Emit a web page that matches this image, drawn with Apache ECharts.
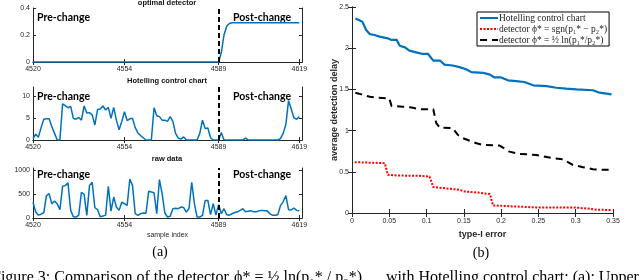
<!DOCTYPE html>
<html><head><meta charset="utf-8">
<script src="https://cdn.jsdelivr.net/npm/echarts@6/dist/echarts.min.js"></script>
<style>html,body{margin:0;padding:0;background:#fff}#c{width:640px;height:280px}</style>
</head><body><div id="c"></div><script>
// ---------- data ----------
const startSample = 4520;
const sampleTicks = [4520, 4554, 4589, 4619];
const changePoint = 4589;

const optimalDetector = [
  0,0,0,0,0,0,0,0,0,0, 0,0,0,0,0,0,0,0,0,0,
  0,0,0,0,0,0,0,0,0,0, 0,0,0,0,0,0,0,0,0,0,
  0,0,0,0,0,0,0,0,0,0, 0,0,0,0,0,0,0,0,0,0,
  0,0,0,0,0,0,0,0,0,0, 0.07,0.2,0.265,0.285,0.29,0.29,0.29,0.29,0.29,0.29,
  0.29,0.29,0.29,0.29,0.29,0.29,0.29,0.29,0.29,0.29, 0.29,0.29,0.29,0.29,0.29,0.29,0.29,0.29,0.29,0.29
];
const hotellingStat = [
  0.3,1.3,0.6,2.8,4.7,4.8,4.8,3.0,1.5,0,
  0,8.2,7.8,7.3,7.6,4.9,4.7,5.1,4.5,7.7,
  6.1,6.2,5.7,3.4,6.9,7.0,7.7,6.8,7.4,4.9,
  7.4,4.5,2.3,4.2,6.4,4.4,4.8,4.9,2.8,1.6,
  1.0,0.5,0,0,0,7.3,5.5,5.3,4.5,4.5,
  4.2,5.3,4.2,1.5,0.4,0.2,0.7,0,0,0,
  0,0,1.5,4.5,2.6,2.7,0.5,0,0,0,
  1.7,0,0,0,0,0,0,0,0,0.4,
  0,0,0,0,0,0,0,0,0,0,
  0,0,0.3,1.5,3.5,8.9,7.0,5.0,4.7,5.3
];
const rawData = [
  330,125,60,80,110,470,510,300,355,300,
  175,665,680,740,160,25,20,60,540,495,
  55,680,750,215,175,25,40,60,665,145,
  440,230,160,330,300,265,820,680,90,55,
  90,105,100,560,545,530,90,805,510,110,
  20,35,195,205,195,230,220,125,200,750,
  300,20,20,55,370,370,70,300,60,280,
  90,195,70,60,90,115,130,160,195,130,
  140,150,130,130,150,160,150,150,92,60,
  56,70,260,340,470,175,170,210,160,150
];

const typeIErrorBlue = [0.0045,0.014,0.019,0.024,0.030,0.037,0.048,0.053,0.060,0.064,0.071,0.077,0.086,0.095,0.102,0.109,0.118,0.124,0.135,0.144,0.153,0.160,0.176,0.185,0.191,0.200,0.209,0.220,0.231,0.243,0.261,0.274,0.287,0.301,0.323,0.332,0.348];
const delayHotelling = [2.36,2.32,2.22,2.17,2.16,2.14,2.12,2.10,2.10,2.03,2.01,1.97,1.95,1.93,1.93,1.85,1.85,1.80,1.79,1.77,1.745,1.71,1.70,1.68,1.645,1.645,1.61,1.60,1.59,1.55,1.54,1.52,1.51,1.50,1.49,1.46,1.44];

const typeIErrorRed = [0.0036,0.019,0.044,0.048,0.060,0.091,0.104,0.109,0.122,0.144,0.151,0.167,0.185,0.189,0.216,0.247,0.296,0.314,0.328,0.349];
const delaySgn = [0.617,0.612,0.605,0.463,0.455,0.451,0.443,0.315,0.302,0.282,0.261,0.249,0.23,0.092,0.08,0.068,0.068,0.056,0.04,0.036];

const typeIErrorBlack = [0.0045,0.0126,0.024,0.035,0.05,0.053,0.068,0.080,0.091,0.109,0.113,0.118,0.135,0.142,0.149,0.167,0.176,0.198,0.211,0.225,0.247,0.269,0.283,0.296,0.31,0.323,0.336,0.349];
const delayLn = [1.46,1.44,1.41,1.40,1.39,1.30,1.29,1.28,1.26,1.26,1.09,1.035,1.03,0.947,0.907,0.846,0.826,0.818,0.745,0.717,0.705,0.665,0.653,0.584,0.556,0.532,0.524,0.524];

const leftTitles = ['optimal detector', 'Hotelling control chart', 'raw data'];
const legendNames = ['Hotelling control chart', 'detector ϕ* = sgn(p₁* − p₂*)', 'detector ϕ* = ½ ln(p₁*/p₂*)'];

// ---------- build ----------
const AX = '#262626';
const SANS = 'Liberation Sans, Arial, sans-serif';
const SERIF = 'Liberation Serif, Times New Roman, serif';
const BLUE = '#0072BD';
const plain = (v) => String(v);

const pairs = (arr) => arr.map((v, i) => [startSample + i, v]);
const zip = (xs, ys) => xs.map((x, i) => [x, ys[i]]);

const leftGrids = [
  {left: 33, width: 269, top: 8, height: 54},
  {left: 33, width: 269, top: 87, height: 53},
  {left: 33, width: 269, top: 168, height: 50}
];
const leftY = [
  {max: 0.4, ticks: [0, 0.2, 0.4]},
  {max: 12, ticks: [0, 5, 10]},
  {max: 1050, ticks: [0, 500, 1000]}
];
const leftData = [optimalDetector, hotellingStat, rawData];

const grid = leftGrids.concat([{left: 352, width: 261, top: 7, height: 206}]);
const xAxis = [], yAxis = [], series = [];
const lineAx = {show: true, lineStyle: {color: AX, width: 1}};

leftGrids.forEach((g, k) => {
  xAxis.push({type: 'value', gridIndex: k, min: 4520, max: 4620, position: 'bottom',
    axisLine: lineAx, splitLine: {show: false},
    axisTick: {inside: true, length: 3, customValues: sampleTicks, lineStyle: {color: AX}},
    axisLabel: {customValues: sampleTicks, formatter: plain, fontSize: 7, color: AX, margin: 4, fontFamily: SANS},
    name: k === 2 ? 'sample index' : '', nameLocation: 'middle', nameGap: 14,
    nameTextStyle: {fontSize: 7, color: AX, fontFamily: SANS}});
  xAxis.push({type: 'value', gridIndex: k, min: 4520, max: 4620, position: 'top',
    axisLine: lineAx, splitLine: {show: false},
    axisTick: {inside: true, length: 3, customValues: sampleTicks, lineStyle: {color: AX}},
    axisLabel: {show: false}});
  yAxis.push({type: 'value', gridIndex: k, min: 0, max: leftY[k].max, position: 'left',
    axisLine: lineAx, splitLine: {show: false},
    axisTick: {inside: true, length: 3, customValues: leftY[k].ticks, lineStyle: {color: AX}},
    axisLabel: {customValues: leftY[k].ticks, formatter: plain, fontSize: 7, color: AX, margin: 3, fontFamily: SANS}});
  yAxis.push({type: 'value', gridIndex: k, min: 0, max: leftY[k].max, position: 'right',
    axisLine: lineAx, splitLine: {show: false},
    axisTick: {inside: true, length: 3, customValues: leftY[k].ticks, lineStyle: {color: AX}},
    axisLabel: {show: false}});
  series.push({type: 'line', xAxisIndex: 2 * k, yAxisIndex: 2 * k, data: pairs(leftData[k]),
    symbol: 'none', lineStyle: {color: BLUE, width: 1.5}, silent: true, z: 2,
    markLine: {silent: true, symbol: 'none', label: {show: false}, animation: false,
      lineStyle: {type: [5, 3], color: '#000', width: 2}, data: [{xAxis: changePoint}]}});
});

// right panel
xAxis.push({type: 'value', gridIndex: 3, min: 0, max: 0.35, interval: 0.05, position: 'bottom',
  axisLine: lineAx, splitLine: {show: false},
  axisTick: {inside: true, length: 4, lineStyle: {color: AX}},
  axisLabel: {fontSize: 7, color: AX, margin: 5, fontFamily: SANS},
  name: 'type-I error', nameLocation: 'middle', nameGap: 15,
  nameTextStyle: {fontSize: 9, fontWeight: 'bold', color: AX, fontFamily: SANS}});
xAxis.push({type: 'value', gridIndex: 3, min: 0, max: 0.35, interval: 0.05, position: 'top',
  axisLine: lineAx, splitLine: {show: false},
  axisTick: {inside: true, length: 4, lineStyle: {color: AX}}, axisLabel: {show: false}});
yAxis.push({type: 'value', gridIndex: 3, min: 0, max: 2.5, interval: 0.5, position: 'left',
  axisLine: lineAx, splitLine: {show: false},
  axisTick: {inside: true, length: 4, lineStyle: {color: AX}},
  axisLabel: {fontSize: 7, color: AX, margin: 3, fontFamily: SANS},
  name: 'average detection delay', nameLocation: 'middle', nameGap: 13, nameMoveOverlap: false,
  nameTextStyle: {fontSize: 9, fontWeight: 'bold', color: AX, fontFamily: SANS}});
yAxis.push({type: 'value', gridIndex: 3, min: 0, max: 2.5, interval: 0.5, position: 'right',
  axisLine: lineAx, splitLine: {show: false},
  axisTick: {inside: true, length: 4, lineStyle: {color: AX}}, axisLabel: {show: false}});

series.push({name: legendNames[0], type: 'line', xAxisIndex: 6, yAxisIndex: 6,
  data: zip(typeIErrorBlue, delayHotelling), symbol: 'none', color: BLUE,
  lineStyle: {color: BLUE, width: 2.2}});
series.push({name: legendNames[1], type: 'line', xAxisIndex: 6, yAxisIndex: 6,
  data: zip(typeIErrorRed, delaySgn), symbol: 'none', color: '#FF0000',
  lineStyle: {color: '#FF0000', width: 2, type: [2, 1.5]}});
series.push({name: legendNames[2], type: 'line', xAxisIndex: 6, yAxisIndex: 6,
  data: zip(typeIErrorBlack, delayLn), symbol: 'none', color: '#000',
  lineStyle: {color: '#000', width: 2, type: [7, 5]}});

const titleYs = [3, 81, 159];
const preYs = [18, 97, 175];
const graphic = [];
const CAL = 'Lato, Open Sans, sans-serif';
leftTitles.forEach((t, k) => {
  graphic.push({type: 'text', x: 167, y: titleYs[k], style: {text: t, fontSize: 7.5, fontWeight: 'bold',
    fontFamily: SANS, fill: '#111', align: 'center', verticalAlign: 'middle'}});
  graphic.push({type: 'text', x: 37, y: preYs[k], style: {text: 'Pre-change', fontSize: 10.5, fontWeight: 'bold',
    fontFamily: CAL, fill: '#000', align: 'left', verticalAlign: 'middle'}});
  graphic.push({type: 'text', x: 291, y: preYs[k], style: {text: 'Post-change', fontSize: 10.5, fontWeight: 'bold',
    fontFamily: CAL, fill: '#000', align: 'right', verticalAlign: 'middle'}});
});
graphic.push({type: 'text', x: 160, y: 252, style: {text: '(a)', fontSize: 14, fontFamily: SERIF, fill: '#000',
  align: 'center', verticalAlign: 'middle'}});
graphic.push({type: 'text', x: 481, y: 253, style: {text: '(b)', fontSize: 14, fontFamily: SERIF, fill: '#000',
  align: 'center', verticalAlign: 'middle'}});
const capStyle = {fontSize: 16, fontFamily: SERIF, fill: '#000', align: 'left', verticalAlign: 'top'};
graphic.push({type: 'text', x: -8, y: 270, style: Object.assign({text: 'Figure 3: Comparison of the detector'}, capStyle)});
graphic.push({type: 'text', x: 234, y: 270, style: Object.assign({text: 'ϕ* = ½ ln(p₁* / p₂*)'}, capStyle)});
graphic.push({type: 'text', x: 386, y: 270, style: Object.assign({text: 'with Hotelling control chart; (a): Upper'}, capStyle)});

const chart = echarts.init(document.getElementById('c'), null, {renderer: 'canvas'});
chart.setOption({
  animation: false,
  backgroundColor: '#fff',
  grid, xAxis, yAxis, series, graphic,
  legend: {
    orient: 'vertical', left: 477, top: 12, padding: [1, 2, 1, 2], itemGap: 1,
    itemWidth: 18, itemHeight: 10, backgroundColor: '#fff', borderColor: '#000', borderWidth: 1,
    borderRadius: 0, selectedMode: false,
    itemStyle: {opacity: 0},
    textStyle: {fontFamily: SERIF, fontSize: 9.5, color: '#222', padding: [0, 0, 0, -4]},
    data: legendNames
  }
});
</script></body></html>
